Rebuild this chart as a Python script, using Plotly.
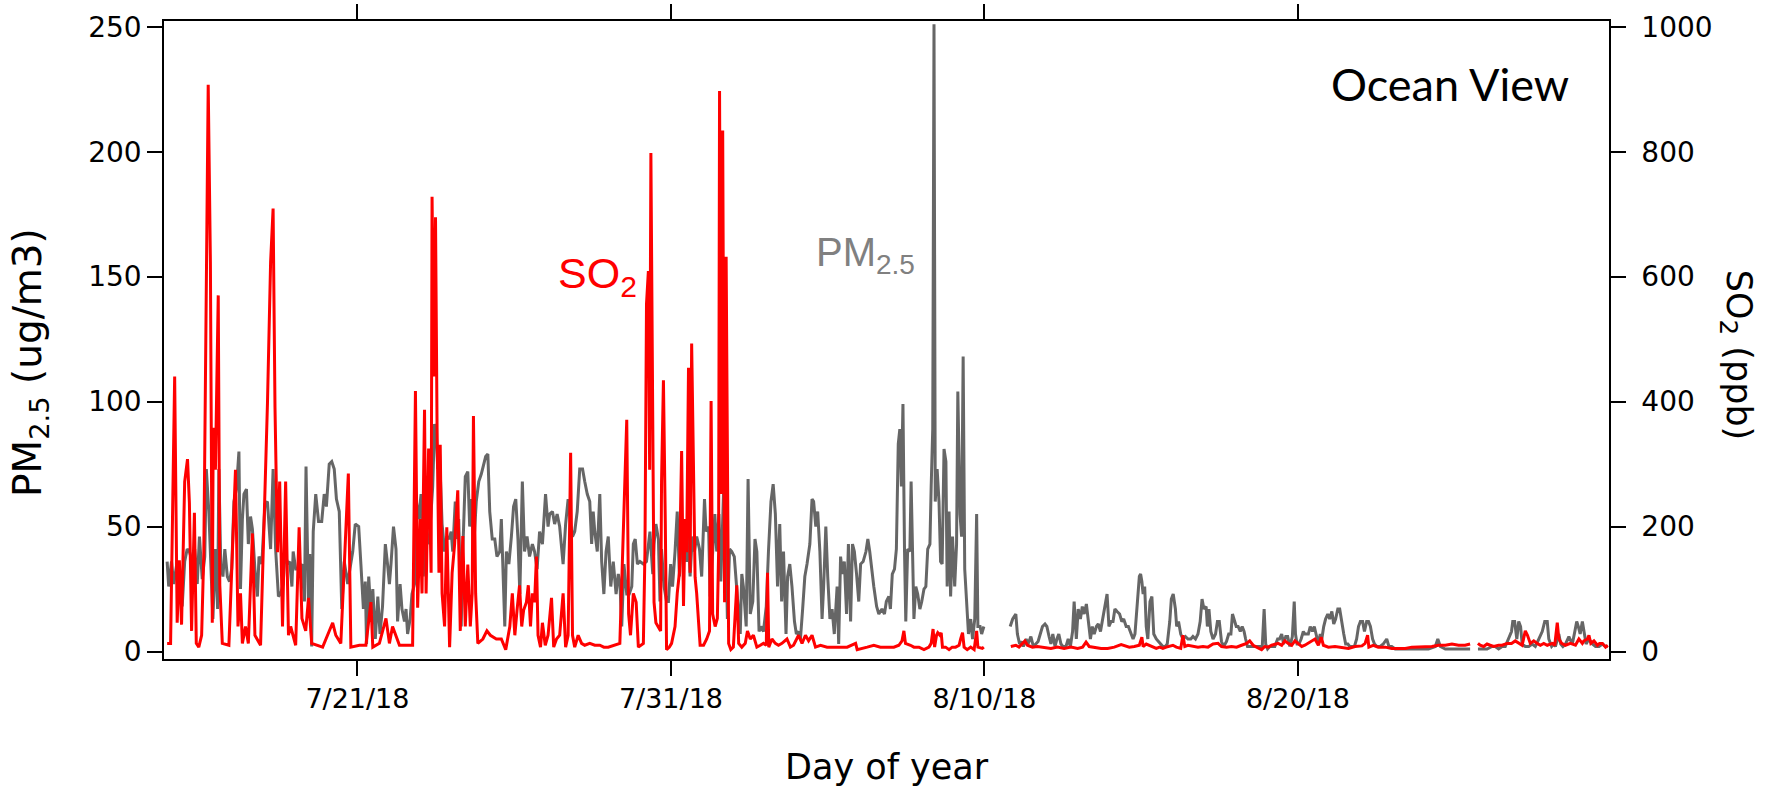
import pandas as pd
import plotly.graph_objects as go

# ---------------- data (day = days since 2018-07-14 00:00) ----------------
BASE_DATE = "2018-07-14"

# PM2.5 (ug/m3) readings: (day, value); None marks a data gap
pm25_jul15_jul22 = [
    (0.93, 36), (0.98, 26), (1.07, 36), (1.14, 27), (1.25, 36), (1.32, 27), (1.41, 18), (1.49, 36), (1.57, 41), (1.64, 40),
    (1.73, 36), (1.81, 41), (1.89, 27), (1.96, 46), (2.05, 29), (2.13, 38), (2.18, 73), (2.26, 56), (2.34, 25), (2.39, 13),
    (2.47, 41), (2.54, 17), (2.58, 73), (2.64, 35), (2.71, 30), (2.77, 41), (2.85, 30), (2.92, 28), (2.99, 33), (3.06, 60),
    (3.14, 65), (3.22, 80), (3.27, 25), (3.33, 53), (3.38, 63), (3.46, 65), (3.52, 43), (3.59, 54), (3.65, 49), (3.73, 33),
    (3.81, 22), (3.86, 38), (3.95, 35), (4.05, 59), (4.13, 60), (4.23, 41), (4.31, 73), (4.39, 41), (4.48, 22), (4.55, 23),
    (4.63, 27), (4.69, 40), (4.77, 35), (4.84, 36), (4.91, 26), (4.95, 40), (5.03, 33), (5.12, 33), (5.23, 35), (5.31, 20),
    (5.36, 74), (5.44, 17), (5.48, 39), (5.54, 2), (5.59, 48), (5.63, 55), (5.67, 63), (5.76, 52), (5.86, 52), (5.94, 63),
    (6.01, 58), (6.10, 75), (6.18, 76), (6.26, 73), (6.33, 61), (6.42, 56), (6.50, 17), (6.58, 36), (6.69, 27), (6.76, 33),
    (6.85, 40), (6.93, 51), (7.04, 50), (7.11, 35), (7.19, 17), (7.25, 28), (7.29, 3), (7.36, 30), (7.43, 15), (7.49, 25),
    (7.57, 5), (7.65, 22), (7.72, 7), (7.80, 18), (7.89, 43), (7.96, 35), (8.02, 27), (8.07, 35), (8.15, 50), (8.23, 41),
    (8.28, 12), (8.36, 27), (8.42, 17), (8.50, 12), (8.55, 17), (8.60, 7), (8.68, 13), (8.74, 23), (8.82, 27), (8.87, 61),
    (8.95, 53),
]
pm25_jul23_jul30 = [
    (9.03, 63), (9.10, 30), (9.19, 48), (9.28, 43), (9.35, 56), (9.40, 66), (9.46, 91), (9.51, 89), (9.56, 73), (9.62, 79),
    (9.70, 51), (9.78, 40), (9.85, 46), (9.92, 45), (9.99, 48), (10.04, 40), (10.12, 60), (10.17, 45), (10.23, 53), (10.31, 10),
    (10.36, 40), (10.44, 70), (10.52, 72), (10.58, 50), (10.64, 61), (10.70, 40), (10.79, 60), (10.87, 68), (10.95, 71), (11.02, 75),
    (11.09, 78), (11.16, 79), (11.22, 56), (11.30, 45), (11.38, 45), (11.45, 38), (11.54, 40), (11.59, 53), (11.64, 35), (11.70, 10),
    (11.75, 40), (11.83, 35), (11.91, 46), (11.98, 58), (12.05, 61), (12.12, 45), (12.18, 23), (12.26, 68), (12.33, 40), (12.41, 46),
    (12.49, 38), (12.58, 43), (12.65, 40), (12.73, 33), (12.81, 48), (12.90, 43), (13.00, 63), (13.08, 50), (13.13, 55), (13.22, 56),
    (13.29, 51), (13.37, 55), (13.45, 50), (13.56, 35), (13.64, 51), (13.72, 61), (13.80, 51), (13.86, 46), (13.93, 48), (14.01, 56),
    (14.09, 73), (14.18, 73), (14.25, 68), (14.33, 63), (14.41, 60), (14.47, 43), (14.52, 56), (14.57, 48), (14.65, 40), (14.73, 63),
    (14.79, 36), (14.86, 23), (14.93, 40), (15.00, 46), (15.08, 26), (15.16, 36), (15.25, 23), (15.32, 31), (15.37, 28), (15.43, 10),
    (15.50, 35), (15.59, 23), (15.67, 23), (15.75, 26), (15.80, 43), (15.86, 45), (15.93, 35), (16.01, 36),
]
pm25_jul30_aug06 = [
    (16.12, 35), (16.22, 36), (16.33, 48), (16.42, 31), (16.46, 43), (16.52, 51), (16.60, 45), (16.65, 20), (16.70, 41), (16.78, 26),
    (16.86, 20), (16.92, 20), (16.99, 35), (17.05, 26), (17.13, 40), (17.20, 56), (17.27, 30), (17.34, 45), (17.42, 40), (17.50, 36),
    (17.56, 46), (17.61, 30), (17.68, 46), (17.75, 40), (17.82, 46), (17.91, 41), (17.98, 30), (18.07, 61), (18.12, 48), (18.20, 50),
    (18.25, 22), (18.33, 41), (18.40, 55), (18.46, 40), (18.53, 55), (18.59, 28), (18.68, 65), (18.74, 53), (18.80, 13), (18.87, 41),
    (18.94, 40), (19.02, 38), (19.08, 28), (19.16, 18), (19.21, 7), (19.26, 31), (19.31, 26), (19.40, 10), (19.46, 69), (19.53, 15),
    (19.61, 20), (19.68, 45), (19.74, 40), (19.81, 8), (19.87, 10), (19.95, 8), (20.04, 18), (20.11, 40), (20.19, 60), (20.26, 67),
    (20.33, 55), (20.40, 26), (20.47, 51), (20.53, 20), (20.59, 40), (20.67, 7), (20.72, 30), (20.79, 35), (20.86, 26), (20.94, 12),
    (21.00, 7), (21.07, 8), (21.13, 5), (21.20, 17), (21.27, 30), (21.34, 35), (21.43, 43), (21.50, 61), (21.55, 60), (21.62, 50),
    (21.68, 56), (21.75, 40), (21.82, 13), (21.87, 26), (21.94, 50), (22.00, 30), (22.07, 13), (22.14, 17), (22.21, 7), (22.30, 26),
    (22.35, 3), (22.41, 38), (22.47, 31), (22.53, 36), (22.60, 15), (22.66, 43), (22.73, 12), (22.79, 43), (22.85, 40), (22.92, 31),
    (22.99, 20), (23.05, 35), (23.13, 36), (23.22, 40), (23.28, 45), (23.34, 40), (23.42, 31), (23.47, 26), (23.56, 18), (23.63, 15),
]
pm25_aug06_aug14 = [
    (23.73, 17), (23.81, 15), (23.87, 20), (23.95, 22), (24.00, 17), (24.06, 31), (24.13, 33), (24.19, 41), (24.25, 83), (24.30, 89),
    (24.35, 66), (24.40, 99), (24.45, 40), (24.49, 12), (24.55, 41), (24.62, 40), (24.66, 68), (24.70, 40), (24.75, 13), (24.81, 26),
    (24.87, 23), (24.94, 17), (25.00, 20), (25.07, 25), (25.13, 26), (25.19, 41), (25.26, 43), (25.30, 66), (25.35, 89), (25.39, 251),
    (25.43, 60), (25.49, 73), (25.55, 60), (25.60, 36), (25.65, 35), (25.71, 81), (25.77, 76), (25.81, 26), (25.87, 56), (25.92, 22),
    (25.98, 46), (26.05, 26), (26.11, 43), (26.15, 104), (26.22, 55), (26.27, 46), (26.32, 118), (26.37, 33), (26.43, 20), (26.49, 7),
    (26.56, 13), (26.62, 5), (26.69, 13), (26.75, 55), (26.79, 10), (26.86, 10), (26.91, 7), (26.98, 10),
    (27.40, None),
    (27.82, 10), (27.90, 13), (28.00, 15), (28.05, 7), (28.12, 3), (28.18, 4), (28.24, 2), (28.33, 5), (28.39, 3), (28.48, 6),
    (28.56, 2), (28.64, 3), (28.71, 4), (28.78, 7), (28.85, 10), (28.93, 11), (28.99, 10), (29.06, 6), (29.12, 3), (29.18, 7),
    (29.25, 2), (29.31, 5), (29.37, 7), (29.44, 3), (29.50, 2), (29.60, 2), (29.67, 5), (29.74, 2), (29.81, 8), (29.86, 20),
    (29.93, 5), (29.99, 17), (30.06, 13), (30.12, 18), (30.18, 15), (30.25, 19), (30.31, 13), (30.38, 5), (30.44, 10), (30.50, 7),
    (30.57, 10), (30.63, 11), (30.70, 8), (30.76, 12), (30.82, 17), (30.91, 23), (30.97, 10), (31.04, 12), (31.10, 12), (31.16, 17),
    (31.23, 16), (31.31, 15), (31.38, 12), (31.44, 13), (31.52, 10), (31.59, 10), (31.68, 7), (31.74, 5), (31.80, 7), (31.89, 20),
    (31.94, 30), (31.98, 31),
]
pm25_aug14_aug22 = [
    (32.02, 28), (32.06, 23), (32.11, 26), (32.16, 10), (32.21, 5), (32.28, 20), (32.34, 22), (32.40, 7), (32.48, 5), (32.55, 4),
    (32.62, 3), (32.69, 2), (32.77, 2), (32.83, 3), (32.91, 12), (32.96, 21), (33.02, 23), (33.09, 17), (33.13, 10), (33.19, 12),
    (33.26, 7), (33.33, 5), (33.41, 6), (33.49, 5), (33.58, 5), (33.65, 6), (33.73, 5), (33.81, 7), (33.88, 12), (33.94, 21),
    (34.00, 17), (34.07, 18), (34.11, 10), (34.16, 17), (34.22, 8), (34.29, 5), (34.37, 7), (34.43, 12), (34.49, 12), (34.56, 4),
    (34.63, 2), (34.72, 4), (34.79, 7), (34.86, 7), (34.91, 15), (34.96, 13), (35.03, 10), (35.09, 10), (35.16, 8), (35.22, 10),
    (35.28, 8), (35.33, 5), (35.39, 2), (35.46, 2), (35.54, 2), (35.62, 2), (35.71, 2), (35.78, 2), (35.86, 2), (35.92, 17),
    (35.97, 3), (36.03, 1), (36.10, 2), (36.18, 2), (36.26, 2), (36.35, 5), (36.41, 5), (36.48, 7), (36.54, 3), (36.61, 6),
    (36.67, 6), (36.74, 2), (36.82, 6), (36.88, 20), (36.92, 7), (36.97, 3), (37.03, 3), (37.10, 5), (37.17, 8), (37.22, 7),
    (37.29, 7), (37.33, 7), (37.39, 10), (37.46, 8), (37.52, 10), (37.59, 6), (37.65, 3), (37.71, 7), (37.76, 5), (37.82, 10),
    (37.88, 13), (37.95, 15), (38.01, 13), (38.08, 16), (38.14, 11), (38.20, 13), (38.27, 17), (38.33, 17), (38.40, 11), (38.46, 7),
    (38.52, 3), (38.59, 3), (38.65, 2), (38.72, 2), (38.80, 2), (38.87, 5), (38.93, 10), (38.99, 12), (39.06, 12), (39.12, 8),
    (39.19, 12), (39.25, 12), (39.31, 10), (39.38, 5), (39.44, 3), (39.52, 2), (39.59, 2),
]
pm25_aug22_aug30 = [
    (39.62, 2), (39.72, 3), (39.83, 5), (39.90, 2), (39.99, 2), (40.10, 1), (40.31, 1), (40.52, 1), (40.74, 1), (40.95, 1),
    (41.16, 1), (41.38, 2), (41.46, 5), (41.54, 2), (41.70, 1), (41.91, 1), (42.12, 1), (42.33, 1), (42.49, 1),
    (42.60, None),
    (42.74, 1), (42.87, 1), (43.03, 1), (43.19, 2), (43.29, 2), (43.40, 1), (43.51, 2), (43.61, 2), (43.72, 5), (43.81, 8),
    (43.85, 12), (43.91, 12), (43.98, 5), (44.04, 12), (44.10, 10), (44.15, 3), (44.25, 2), (44.36, 2), (44.47, 3), (44.57, 2),
    (44.68, 5), (44.79, 8), (44.87, 12), (44.95, 12), (45.00, 5), (45.09, 2), (45.16, 3), (45.21, 2), (45.32, 7), (45.38, 3),
    (45.45, 2), (45.53, 3), (45.64, 6), (45.75, 3), (45.83, 8), (45.89, 12), (45.94, 10), (46.00, 7), (46.07, 12), (46.13, 8),
    (46.19, 3), (46.28, 5), (46.39, 3), (46.49, 2), (46.60, 2), (46.71, 3), (46.81, 2), (46.88, 2),
]

# SO2 (ppb) readings: (day, value); None marks a data gap
so2_jul15_jul22 = [
    (0.93, 13), (1.04, 13), (1.17, 440), (1.25, 46), (1.32, 146), (1.39, 43), (1.49, 272), (1.58, 308), (1.64, 238), (1.71, 33),
    (1.80, 222), (1.86, 13), (1.94, 7), (2.03, 26), (2.10, 159), (2.24, 907), (2.31, 623), (2.37, 46), (2.40, 358), (2.47, 291),
    (2.56, 570), (2.61, 106), (2.69, 13), (2.90, 10), (3.11, 291), (3.19, 40), (3.27, 93), (3.33, 13), (3.43, 40), (3.52, 13),
    (3.65, 189), (3.73, 26), (3.91, 10), (4.13, 397), (4.23, 623), (4.31, 709), (4.37, 391), (4.45, 159), (4.52, 272), (4.61, 40),
    (4.71, 272), (4.80, 26), (4.87, 40), (5.03, 10), (5.14, 199), (5.23, 53), (5.35, 33), (5.44, 86), (5.54, 13), (5.89, 7),
    (6.21, 46), (6.31, 26), (6.47, 13), (6.58, 146), (6.71, 285), (6.79, 7), (7.06, 10), (7.27, 10), (7.43, 79), (7.49, 7),
    (7.70, 13), (7.91, 53), (8.02, 13), (8.12, 40), (8.34, 10), (8.76, 10), (8.85, 417),
]
so2_jul23_jul30 = [
    (8.92, 70), (9.00, 212), (9.06, 93), (9.14, 387), (9.19, 93), (9.27, 325), (9.35, 126), (9.38, 728), (9.44, 440), (9.49, 695),
    (9.54, 358), (9.60, 126), (9.64, 331), (9.70, 93), (9.78, 40), (9.85, 199), (9.94, 7), (10.02, 126), (10.10, 172), (10.20, 258),
    (10.28, 33), (10.36, 185), (10.44, 40), (10.52, 139), (10.60, 40), (10.66, 93), (10.70, 377), (10.77, 93), (10.84, 13), (11.00, 20),
    (11.13, 33), (11.24, 26), (11.43, 20), (11.59, 20), (11.73, 3), (11.86, 40), (11.94, 93), (12.02, 26), (12.09, 66), (12.17, 106),
    (12.24, 40), (12.30, 66), (12.39, 79), (12.45, 106), (12.52, 40), (12.58, 93), (12.65, 79), (12.71, 152), (12.76, 26), (12.84, 7),
    (12.90, 46), (12.99, 10), (13.08, 26), (13.19, 86), (13.26, 7), (13.35, 20), (13.45, 26), (13.56, 93), (13.64, 7), (13.72, 26),
    (13.80, 318), (13.86, 26), (13.93, 7), (14.04, 26), (14.15, 13), (14.25, 10), (14.41, 13), (14.57, 10), (14.73, 10), (14.86, 7),
    (15.00, 7), (15.16, 10), (15.37, 13), (15.46, 159), (15.53, 258), (15.59, 371), (15.65, 60), (15.71, 26), (15.80, 93), (15.89, 79),
    (15.96, 7),
]
so2_jul30_aug06 = [
    (16.12, 13), (16.17, 159), (16.22, 556), (16.28, 609), (16.32, 291), (16.36, 798), (16.42, 305), (16.46, 79), (16.52, 46), (16.60, 40),
    (16.67, 33), (16.70, 272), (16.76, 434), (16.82, 205), (16.86, 3), (16.95, 7), (17.02, 13), (17.13, 40), (17.20, 93), (17.27, 126),
    (17.34, 321), (17.40, 73), (17.45, 212), (17.50, 159), (17.56, 454), (17.61, 126), (17.66, 493), (17.72, 291), (17.77, 119), (17.82, 93),
    (17.88, 53), (17.93, 10), (18.04, 10), (18.14, 20), (18.23, 33), (18.28, 401), (18.33, 60), (18.41, 40), (18.48, 53), (18.52, 159),
    (18.55, 897), (18.60, 252), (18.65, 834), (18.71, 79), (18.76, 632), (18.80, 225), (18.84, 13), (18.91, 3), (18.99, 7), (19.10, 106),
    (19.16, 13), (19.26, 7), (19.37, 13), (19.44, 33), (19.53, 20), (19.63, 26), (19.74, 7), (19.85, 10), (19.95, 13), (20.04, 10),
    (20.08, 126), (20.12, 7), (20.22, 20), (20.33, 13), (20.43, 10), (20.54, 13), (20.70, 20), (20.81, 7), (20.91, 10), (21.07, 26),
    (21.18, 13), (21.29, 26), (21.39, 17), (21.50, 26), (21.61, 7), (21.77, 10), (21.98, 7), (22.19, 7), (22.41, 7), (22.62, 7),
    (22.89, 13), (22.94, 3), (23.26, 7), (23.47, 10),
]
so2_aug06_aug14 = [
    (23.68, 7), (23.89, 7), (24.11, 7), (24.27, 10), (24.37, 17), (24.43, 33), (24.48, 13), (24.64, 10), (24.75, 7), (24.91, 7),
    (25.07, 3), (25.23, 7), (25.30, 13), (25.36, 36), (25.41, 7), (25.47, 26), (25.51, 30), (25.58, 26), (25.62, 30), (25.66, 7),
    (25.76, 7), (25.87, 3), (25.97, 7), (26.08, 7), (26.19, 10), (26.24, 20), (26.30, 30), (26.35, 7), (26.45, 3), (26.56, 7),
    (26.67, 3), (26.75, 33), (26.79, 7), (26.93, 5), (26.98, 7),
    (27.40, None),
    (27.84, 8), (28.00, 10), (28.10, 7), (28.21, 13), (28.29, 17), (28.37, 10), (28.53, 7), (28.69, 8), (28.90, 7), (29.12, 5),
    (29.33, 7), (29.54, 5), (29.76, 7), (29.97, 5), (30.13, 7), (30.24, 15), (30.34, 8), (30.50, 7), (30.72, 5), (30.93, 5),
    (31.14, 7), (31.36, 11), (31.52, 9), (31.62, 7), (31.78, 8), (31.94, 10),
]
so2_aug14_aug22 = [
    (32.02, 23), (32.06, 8), (32.16, 12), (32.27, 10), (32.37, 7), (32.48, 5), (32.59, 7), (32.69, 5), (32.80, 7), (32.91, 8),
    (33.01, 10), (33.12, 7), (33.26, 5), (33.33, 26), (33.39, 8), (33.49, 10), (33.65, 8), (33.81, 7), (33.97, 8), (34.13, 7),
    (34.29, 12), (34.45, 13), (34.56, 8), (34.72, 7), (34.88, 8), (35.04, 7), (35.20, 10), (35.36, 13), (35.46, 17), (35.57, 10),
    (35.68, 7), (35.84, 3), (35.94, 8), (36.05, 7), (36.16, 10), (36.26, 12), (36.37, 13), (36.48, 10), (36.58, 17), (36.69, 13),
    (36.80, 10), (36.90, 17), (37.01, 13), (37.12, 8), (37.22, 10), (37.33, 13), (37.44, 17), (37.54, 20), (37.65, 10), (37.74, 23),
    (37.81, 10), (37.97, 7), (38.18, 8), (38.40, 7), (38.61, 5), (38.82, 8), (39.04, 9),
]
so2_aug22_aug30 = [
    (39.14, 13), (39.22, 26), (39.26, 7), (39.40, 10), (39.56, 7), (39.78, 7), (39.99, 5), (40.20, 5), (40.42, 5), (40.63, 7),
    (40.84, 7), (41.06, 8), (41.27, 8), (41.48, 10), (41.70, 10), (41.91, 12), (42.12, 10), (42.33, 10), (42.49, 12),
    (42.60, None),
    (42.74, 13), (42.81, 10), (42.92, 8), (43.03, 12), (43.13, 10), (43.24, 8), (43.40, 10), (43.51, 10), (43.67, 13), (43.81, 13),
    (43.93, 17), (44.04, 13), (44.15, 10), (44.25, 33), (44.32, 26), (44.41, 13), (44.52, 17), (44.63, 13), (44.73, 10), (44.84, 13),
    (44.95, 10), (45.11, 13), (45.19, 10), (45.27, 46), (45.32, 20), (45.41, 13), (45.53, 10), (45.69, 13), (45.85, 10), (45.96, 20),
    (46.07, 13), (46.12, 17), (46.23, 20), (46.28, 26), (46.34, 13), (46.44, 17), (46.55, 10), (46.62, 13), (46.71, 13), (46.81, 7),
    (46.88, 10),
]

x_tick_dates = ["2018-07-21", "2018-07-31", "2018-08-10", "2018-08-20"]
x_tick_labels = ["7/21/18", "7/31/18", "8/10/18", "8/20/18"]
x_range_days = [0.83, 46.92]
pm_ticks = [0, 50, 100, 150, 200, 250]
so2_ticks = [0, 200, 400, 600, 800, 1000]
pm_range = [-3, 252.3]
so2_range = [-12, 1009.2]

# ---------------- build ----------------
base = pd.Timestamp(BASE_DATE)


def to_xy(*segments):
    xs, ys = [], []
    for seg in segments:
        for d, v in seg:
            xs.append(base + pd.Timedelta(days=d))
            ys.append(v)
    return xs, ys


pm_x, pm_y = to_xy(pm25_jul15_jul22, pm25_jul23_jul30, pm25_jul30_aug06,
                   pm25_aug06_aug14, pm25_aug14_aug22, pm25_aug22_aug30)
so2_x, so2_y = to_xy(so2_jul15_jul22, so2_jul23_jul30, so2_jul30_aug06,
                     so2_aug06_aug14, so2_aug14_aug22, so2_aug22_aug30)

fig = go.Figure()
fig.add_trace(go.Scatter(x=pm_x, y=pm_y, mode="lines", name="PM2.5",
                         line=dict(color="#666666", width=3), connectgaps=False,
                         yaxis="y"))
fig.add_trace(go.Scatter(x=so2_x, y=so2_y, mode="lines", name="SO2",
                         line=dict(color="#ff0000", width=3), connectgaps=False,
                         yaxis="y2"))

axis_common = dict(showline=True, linecolor="black", linewidth=1.5,
                   ticks="outside", ticklen=15, tickwidth=1.5, tickcolor="black",
                   showgrid=False, zeroline=False, automargin=False)
Y_TICK_FONT = dict(family="DejaVu Sans", size=28, color="black")
X_TICK_FONT = dict(family="DejaVu Sans", size=27, color="black")

x_start = base + pd.Timedelta(days=x_range_days[0])
x_end = base + pd.Timedelta(days=x_range_days[1])

fig.update_layout(
    width=1783, height=791,
    margin=dict(l=164, r=174, t=21, b=132, autoexpand=False),
    paper_bgcolor="white", plot_bgcolor="white",
    showlegend=False,
    xaxis=dict(type="date", range=[x_start, x_end], tickmode="array",
               tickvals=x_tick_dates, ticktext=x_tick_labels, mirror="ticks",
               tickfont=X_TICK_FONT, **axis_common),
    yaxis=dict(range=pm_range, tickmode="array", tickvals=pm_ticks,
               tickfont=Y_TICK_FONT, **axis_common),
    yaxis2=dict(range=so2_range, tickmode="array", tickvals=so2_ticks,
                overlaying="y", side="right", tickfont=Y_TICK_FONT,
                ticklabelstandoff=10, **axis_common),
)

Y1_TITLE_FONT = dict(family="DejaVu Sans", size=39, color="black")
Y2_TITLE_FONT = dict(family="DejaVu Sans", size=35, color="black")
X_TITLE_FONT = dict(family="DejaVu Sans", size=35, color="black")
annotations = [
    dict(text="PM<sub>2.5</sub> (ug/m3)", x=-0.0927, y=0.464, textangle=-90, font=Y1_TITLE_FONT),
    dict(text="SO<sub>2</sub> (ppb)", x=1.088, y=0.4765, textangle=90, font=Y2_TITLE_FONT),
    dict(text="Day of year", x=0.5, y=-0.170, font=X_TITLE_FONT),
    dict(text="Ocean View", x=0.890, y=0.902,
         font=dict(family="Lato", size=45, color="black")),
    dict(text="SO<sub>2</sub>", x=0.3003, y=0.600,
         font=dict(family="Liberation Sans", size=43, color="#ff0000")),
    dict(text="PM<sub>2.5</sub>", x=0.4858, y=0.634,
         font=dict(family="Liberation Sans", size=40, color="#808080")),
]
for a in annotations:
    fig.add_annotation(xref="paper", yref="paper", showarrow=False,
                       xanchor="center", yanchor="middle", **a)

fig.write_html(
    "out.html",
    config={"displayModeBar": False},
    post_script="document.body.style.margin='0px';document.body.style.padding='0px';",
)
